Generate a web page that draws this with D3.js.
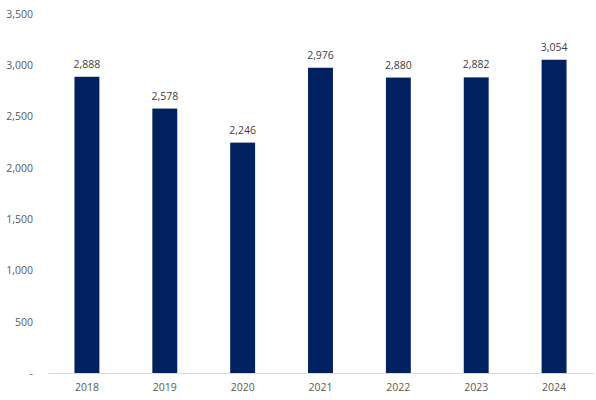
<!DOCTYPE html>
<html>
<head>
<meta charset="utf-8">
<script src="https://cdn.jsdelivr.net/npm/d3@7"></script>
<style>
  body { margin: 0; background: #fff; }
  text { font-family: "Open Sans", sans-serif; }
</style>
</head>
<body>
<script>
/*data*/
const years = ['2018', '2019', '2020', '2021', '2022', '2023', '2024'];
const values = [2888, 2578, 2246, 2976, 2880, 2882, 3054];
const yTicks = [0, 500, 1000, 1500, 2000, 2500, 3000, 3500];

/*canvas size*/
const width = 596;
const height = 400;
const padding = { top: 14, bottom: 27, left: 48, right: 3 };

const svg = d3.select('body')
       .append('svg')
       .attr('width', width)
       .attr('height', height);

/*scales*/
const xScale = d3.scaleBand()
       .domain(years)
       .range([padding.left, width - padding.right])
       .paddingInner(0.68)
       .paddingOuter(0.34);
const yScale = d3.scaleLinear()
       .domain([0, 3500])
       .range([height - padding.bottom, padding.top]);

const fmt = d3.format(',');

/*x axis*/
const xAxis = svg.append('g')
       .attr('transform', `translate(0,${height - padding.bottom})`)
       .call(d3.axisBottom(xScale).tickSize(0).tickPadding(11));
xAxis.select('.domain').attr('stroke', '#d9d9d9').attr('stroke-width', 1);
xAxis.selectAll('text').attr('font-size', 10.5).attr('fill', '#595959');

/*y axis*/
const yAxis = svg.append('g')
       .attr('transform', `translate(${padding.left},0)`)
       .call(d3.axisLeft(yScale).tickValues(yTicks).tickSize(0).tickPadding(15)
             .tickFormat(d => d === 0 ? '-' : fmt(d)));
yAxis.select('.domain').remove();
yAxis.selectAll('text').attr('font-size', 10.5).attr('fill', '#595959');

/*bars*/
svg.append('g').selectAll('rect').data(values).enter().append('rect')
       .attr('x', (d, i) => xScale(years[i]))
       .attr('y', d => yScale(d))
       .attr('width', xScale.bandwidth())
       .attr('height', d => yScale(0) - yScale(d))
       .attr('fill', '#002060');

/*value labels*/
svg.append('g').selectAll('text').data(values).enter().append('text')
       .attr('x', (d, i) => xScale(years[i]) + xScale.bandwidth() / 2)
       .attr('y', d => yScale(d) - 9)
       .attr('text-anchor', 'middle')
       .attr('font-size', 10.5)
       .attr('fill', '#404040')
       .text(d => fmt(d));
</script>
</body>
</html>
